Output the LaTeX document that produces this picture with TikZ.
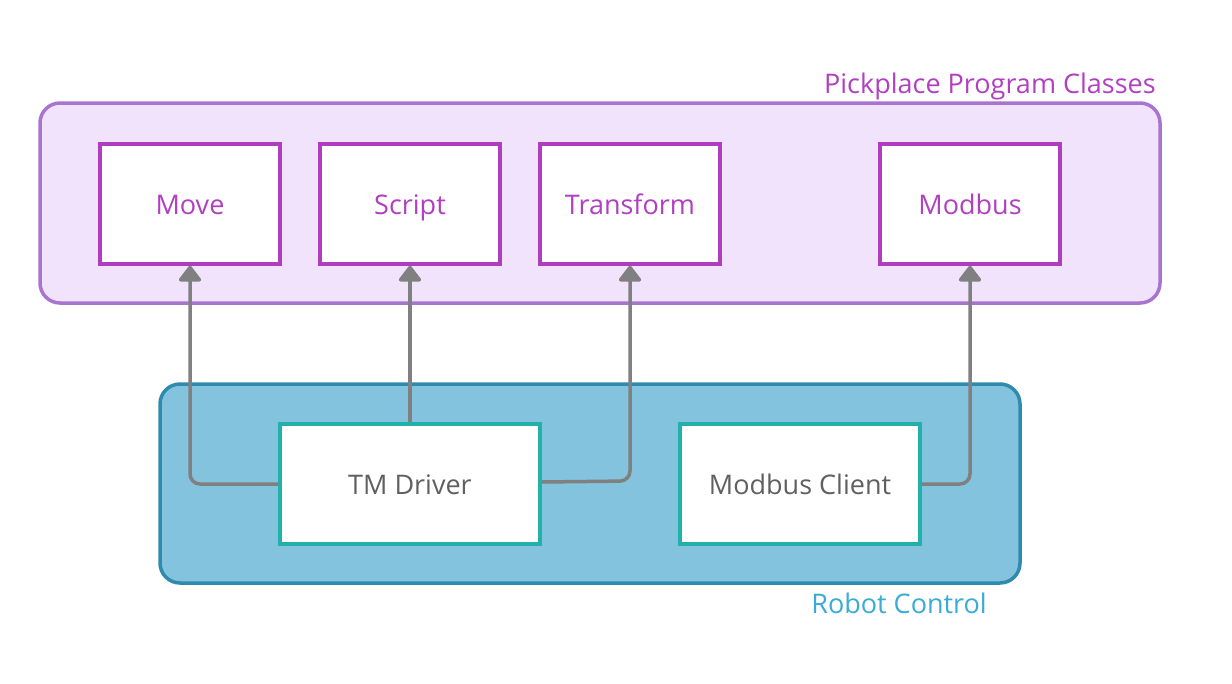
\documentclass[tikz,border=0pt]{standalone}
\usepackage{fontspec}
\setmainfont{Open Sans}
\usetikzlibrary{arrows.meta}
\definecolor{grpfill}{HTML}{F2E3FC}
\definecolor{grpline}{HTML}{A775D0}
\definecolor{purp}{HTML}{B03CC0}
\definecolor{purptext}{HTML}{B040C0}
\definecolor{bluefill}{HTML}{84C3DD}
\definecolor{blueline}{HTML}{2E8BAE}
\definecolor{bluetext}{HTML}{3AAAD6}
\definecolor{teal}{HTML}{22B0AA}
\definecolor{graytext}{HTML}{606060}
\definecolor{conn}{HTML}{808080}
\tikzset{
  group/.style={draw, line width=3.5pt, rounded corners=20pt},
  boxfont/.style={font=\fontsize{27}{31}\selectfont, text height=21pt, text depth=0pt},
  classbox/.style={draw=purp, fill=white, line width=3.5pt, minimum width=180pt, minimum height=120pt, inner sep=0pt, text=purptext, boxfont},
  ctrlbox/.style={draw=teal, fill=white, line width=3.5pt, minimum height=120pt, inner sep=0pt, text=graytext, boxfont},
  grouplabel/.style={font=\fontsize{27}{31}\selectfont, inner sep=0pt},
  link/.style={draw=conn, line width=3.5pt, rounded corners=10pt, -{Triangle[length=17pt,width=25pt,round]}}
}
\begin{document}
\begin{tikzpicture}[x=1pt,y=-1pt]
\useasboundingbox (0,0) rectangle (1232,683);
% purple group
\draw[group, draw=grpline, fill=grpfill] (40,103) rectangle (1160,303);
\node[grouplabel, text=purptext, anchor=base east] (lblA) at (1156,93) {Pickplace Program Classes};
% blue group
\draw[group, draw=blueline, fill=bluefill] (160,384) rectangle (1020,583);
\node[grouplabel, text=bluetext, anchor=base east] (lblB) at (987,613) {Robot Control};
% class boxes
\node[classbox] (move) at (190,204) {Move};
\node[classbox] (script) at (410,204) {Script};
\node[classbox] (transform) at (630,204) {Transform};
\node[classbox] (modbus) at (970,204) {Modbus};
% control boxes
\node[ctrlbox, minimum width=260pt] (tm) at (410,484) {TM Driver};
\node[ctrlbox, minimum width=240pt] (mc) at (800,484) {Modbus Client};
% connectors
\draw[link] (tm.west) -- (190,484) -- (move.south);
\draw[link] (tm.north) -- (script.south);
\draw[link] ([yshift=2pt]tm.east) -- (630,481) -- (transform.south);
\draw[link] (mc.east) -- (970,484) -- (modbus.south);
\end{tikzpicture}
\end{document}
